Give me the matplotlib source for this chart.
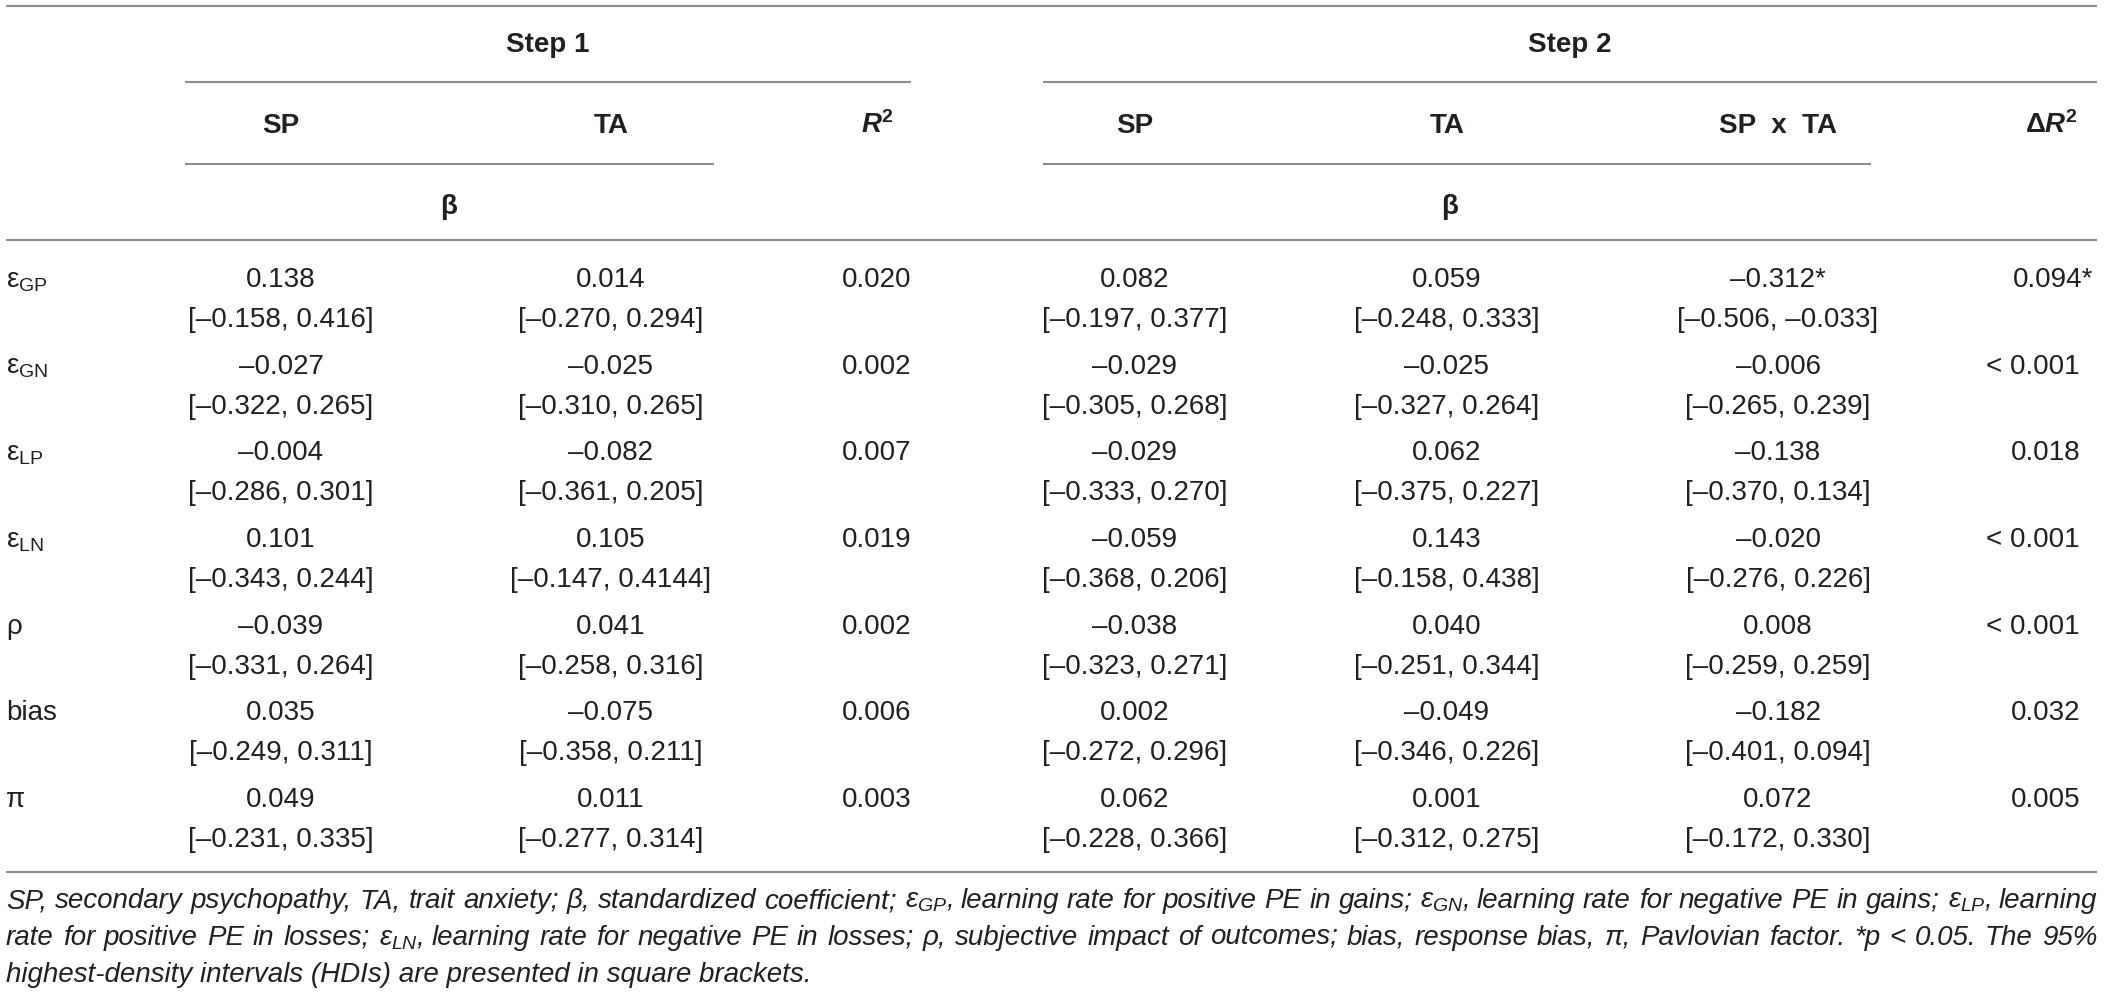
import matplotlib
matplotlib.use('Agg')
import matplotlib.pyplot as plt

plt.rcParams['font.family'] = ['Liberation Sans', 'DejaVu Sans']
plt.rcParams['mathtext.fontset'] = 'custom'
plt.rcParams['mathtext.rm'] = 'Liberation Sans'
plt.rcParams['mathtext.it'] = 'Liberation Sans:italic'
plt.rcParams['mathtext.bf'] = 'Liberation Sans:bold'
plt.rcParams['mathtext.bfit'] = 'Liberation Sans:italic:bold'

# table content
row_labels = [r'ε$_{\mathrm{GP}}$', r'ε$_{\mathrm{GN}}$', r'ε$_{\mathrm{LP}}$', r'ε$_{\mathrm{LN}}$',
              'ρ', 'bias', 'π']
s1_sp = ['0.138', '–0.027', '–0.004', '0.101', '–0.039', '0.035', '0.049']
s1_sp_hdi = ['[–0.158, 0.416]', '[–0.322, 0.265]', '[–0.286, 0.301]', '[–0.343, 0.244]',
             '[–0.331, 0.264]', '[–0.249, 0.311]', '[–0.231, 0.335]']
s1_ta = ['0.014', '–0.025', '–0.082', '0.105', '0.041', '–0.075', '0.011']
s1_ta_hdi = ['[–0.270, 0.294]', '[–0.310, 0.265]', '[–0.361, 0.205]', '[–0.147, 0.4144]',
             '[–0.258, 0.316]', '[–0.358, 0.211]', '[–0.277, 0.314]']
s1_r2 = ['0.020', '0.002', '0.007', '0.019', '0.002', '0.006', '0.003']
s2_sp = ['0.082', '–0.029', '–0.029', '–0.059', '–0.038', '0.002', '0.062']
s2_sp_hdi = ['[–0.197, 0.377]', '[–0.305, 0.268]', '[–0.333, 0.270]', '[–0.368, 0.206]',
             '[–0.323, 0.271]', '[–0.272, 0.296]', '[–0.228, 0.366]']
s2_ta = ['0.059', '–0.025', '0.062', '0.143', '0.040', '–0.049', '0.001']
s2_ta_hdi = ['[–0.248, 0.333]', '[–0.327, 0.264]', '[–0.375, 0.227]', '[–0.158, 0.438]',
             '[–0.251, 0.344]', '[–0.346, 0.226]', '[–0.312, 0.275]']
s2_int = ['–0.312*', '–0.006', '–0.138', '–0.020', '0.008', '–0.182', '0.072']
s2_int_hdi = ['[–0.506, –0.033]', '[–0.265, 0.239]', '[–0.370, 0.134]', '[–0.276, 0.226]',
              '[–0.259, 0.259]', '[–0.401, 0.094]', '[–0.172, 0.330]']
s2_dr2 = ['0.094*', '< 0.001', '0.018', '< 0.001', '< 0.001', '0.032', '0.005']

footnote = [
    r'SP, secondary psychopathy, TA, trait anxiety; β, standardized coefficient; $ε_{GP}$, '
    r'learning rate for positive PE in gains; $ε_{GN}$, learning rate for negative PE in gains; '
    r'$ε_{LP}$, learning',
    r'rate for positive PE in losses; $ε_{LN}$, learning rate for negative PE in losses; ρ, '
    r'subjective impact of outcomes; bias, response bias, π, Pavlovian factor. *p < 0.05. The 95%',
    'highest-density intervals (HDIs) are presented in square brackets.',
]

TXT = '#231f20'
RULE = '#8c8c8c'
FS = 20

fig = plt.figure(figsize=(21.18, 9.94), dpi=100)
ax = fig.add_axes([0, 0, 1, 1])
ax.set_xlim(0, 2118)
ax.set_ylim(994, 0)
ax.axis('off')

# rules
lw = 1.5
for y, x0, x1 in [(6, 6, 2097), (82, 185, 911), (82, 1043, 2097), (164, 185, 714),
                  (164, 1043, 1871), (240, 6, 2097), (872, 6, 2097)]:
    ax.plot([x0, x1], [y, y], color=RULE, lw=lw, solid_capstyle='butt')

# header
hb = dict(fontsize=FS, color=TXT, fontweight='bold', va='baseline')
ax.text(548, 52, 'Step 1', ha='center', **hb)
ax.text(1570, 52, 'Step 2', ha='center', **hb)
ax.text(281, 133, 'SP', ha='center', **hb)
ax.text(611, 133, 'TA', ha='center', **hb)
ax.text(877, 133, r'$\mathbfit{R}^{\mathbf{2}}$', ha='center', **hb)
ax.text(1135, 133, 'SP', ha='center', **hb)
ax.text(1447, 133, 'TA', ha='center', **hb)
ax.text(1778, 133, 'SP  x  TA', ha='center', **hb)
ax.text(2077, 133, r'$\mathbf{Δ}\mathbfit{R}^{\mathbf{2}}$', ha='right', **hb)
ax.text(449, 214, 'β', ha='center', **hb)
ax.text(1450, 214, 'β', ha='center', **hb)

# body
body = dict(fontsize=FS, color=TXT, va='baseline')
y0, pitch, gap = 287, 86.7, 40
centre_cols = [(281, s1_sp, s1_sp_hdi), (611, s1_ta, s1_ta_hdi), (877, s1_r2, None),
               (1135, s2_sp, s2_sp_hdi), (1447, s2_ta, s2_ta_hdi), (1778, s2_int, s2_int_hdi)]
for i, lab in enumerate(row_labels):
    y = y0 + i * pitch
    ax.text(6, y, lab, ha='left', **body)
    for x, vals, hdis in centre_cols:
        ax.text(x, y, vals[i], ha='center', **body)
        if hdis is not None:
            ax.text(x, y + gap, hdis[i], ha='center', **body)
    v = s2_dr2[i]
    if v.endswith('*'):
        ax.text(2093, y, v, ha='right', **body)
    else:
        ax.text(2080, y, v, ha='right', **body)

# footnote, first two lines justified
fig.canvas.draw()
renderer = fig.canvas.get_renderer()
fn = dict(fontsize=20, color=TXT, style='italic', va='baseline', ha='left')
fy = [908, 945, 982]


def split_words(line):
    words, cur, inmath = [], '', False
    for ch in line:
        if ch == '$':
            inmath = not inmath
        if ch == ' ' and not inmath:
            if cur:
                words.append(cur)
            cur = ''
        else:
            cur += ch
    if cur:
        words.append(cur)
    return words


for k, line in enumerate(footnote):
    if k < 2:
        words = split_words(line)
        objs = [ax.text(0, fy[k], w, **fn) for w in words]
        widths = [o.get_window_extent(renderer).width for o in objs]
        space = (2097 - 6 - sum(widths)) / (len(words) - 1)
        x = 6
        for o, w in zip(objs, widths):
            o.set_x(x)
            x += w + space
    else:
        ax.text(6, fy[k], line, **fn)

fig.savefig('out.png', dpi=100)
